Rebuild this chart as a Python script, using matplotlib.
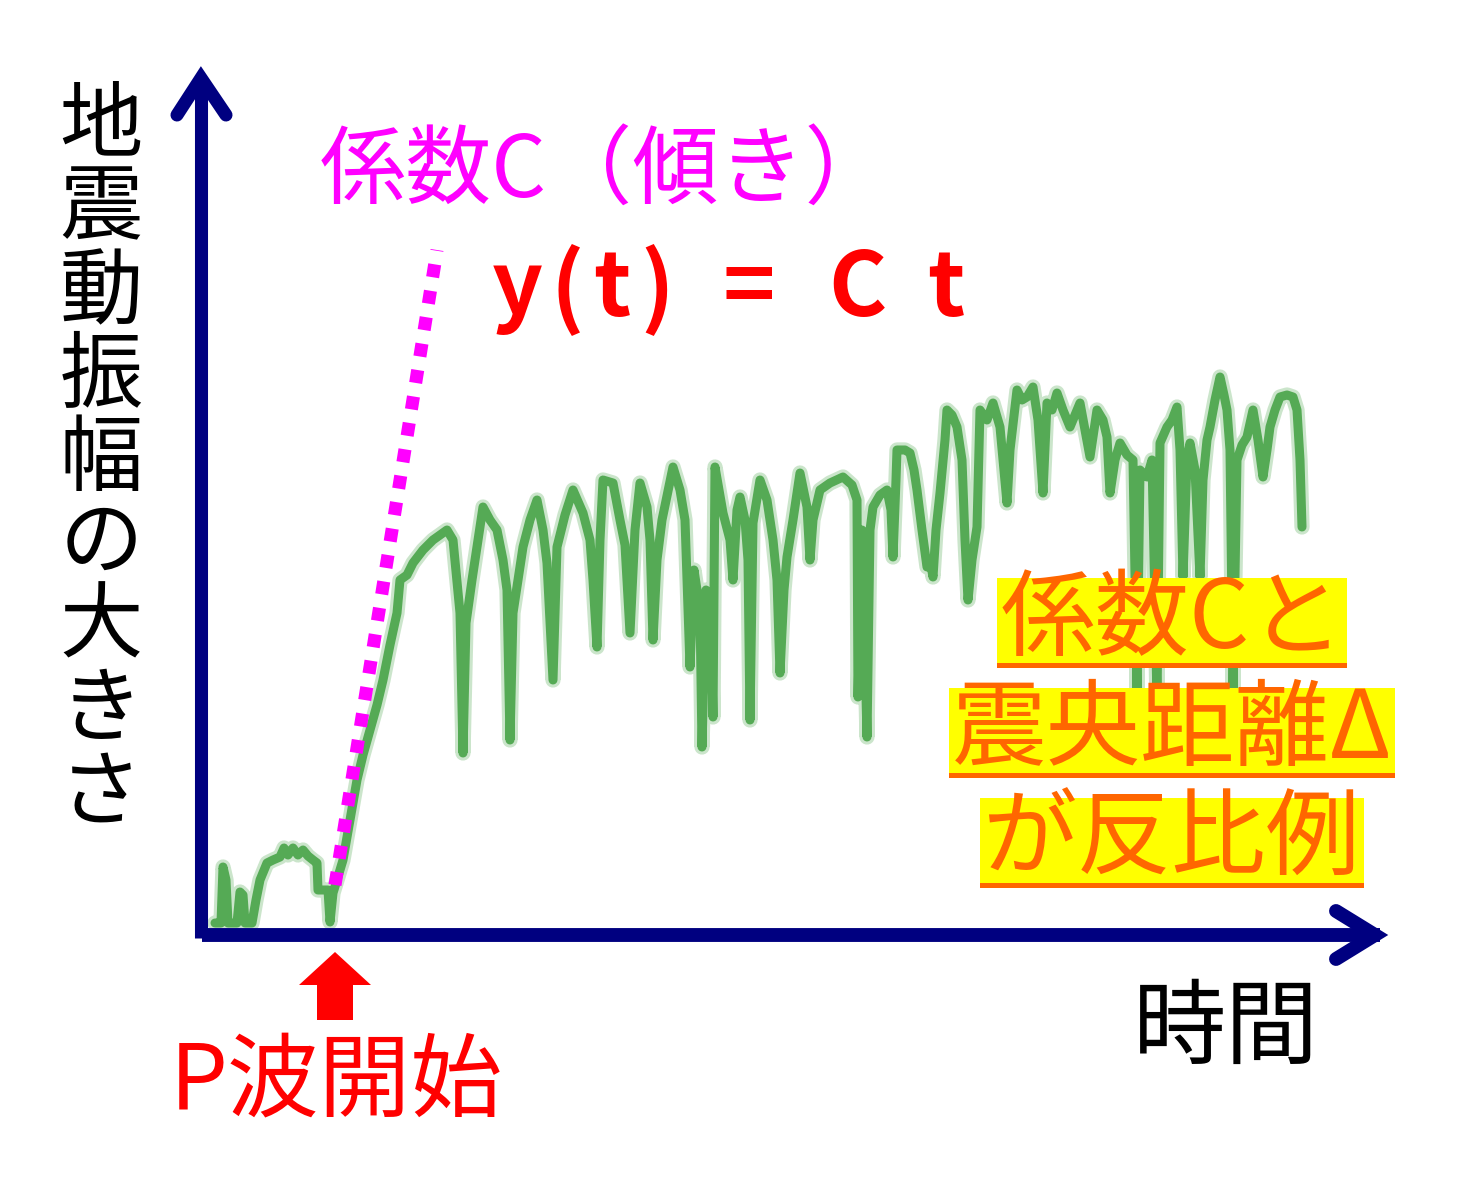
import matplotlib
matplotlib.use("Agg")
import matplotlib.pyplot as plt
from matplotlib.patches import Rectangle, FancyArrow

plt.rcParams['font.family'] = ['Noto Sans CJK JP', 'DejaVu Sans']

# canvas size and the corner of the sketch axes (in pixels of the picture)
W, H = 1457, 1186
X0, Y0 = 200, 935


def px(x, y):
    # picture pixel -> data units (time right, amplitude up)
    return x - X0, Y0 - y


# ======================
# DATA
# ======================
wave_t = [15, 21, 23, 26, 28, 37, 40, 43, 45, 52, 56, 60, 67, 73, 80, 84, 88, 93, 98, 103,
          108, 113, 117, 118, 128, 130, 133, 137, 143, 150, 157, 163, 170, 177, 183, 190,
          197, 200, 207, 213, 223, 233, 247, 253, 260, 263, 266, 272, 277, 283, 290, 297,
          303, 307, 310, 313, 318, 323, 330, 337, 343, 347, 353, 357, 365, 373, 383, 390,
          393, 397, 400, 403, 413, 420, 425, 430, 435, 440, 447, 450, 453, 457, 462, 473,
          480, 485, 490, 494, 500, 502, 506, 511, 513, 515, 523, 530, 533, 537, 540, 545,
          548, 550, 553, 560, 567, 573, 577, 580, 584, 587, 593, 600, 607, 610, 613, 620,
          630, 643, 652, 657, 658, 662, 667, 670, 673, 680, 687, 691, 693, 696, 697, 705,
          710, 714, 717, 722, 727, 730, 733, 736, 740, 745, 747, 752, 757, 762, 765, 768,
          772, 777, 780, 787, 793, 800, 804, 807, 810, 817, 822, 827, 833, 838, 843, 847,
          852, 857, 863, 870, 875, 880, 885, 890, 897, 903, 907, 910, 915, 920, 927, 933,
          937, 940, 947, 952, 957, 960, 967, 972, 977, 980, 983, 987, 990, 995, 1000, 1003,
          1007, 1010, 1015, 1020, 1024, 1027, 1030, 1033, 1037, 1042, 1047, 1053, 1058, 1063,
          1067, 1070, 1075, 1080, 1087, 1093, 1097, 1100, 1102]
wave_amp = [12, 12, 68, 55, 12, 12, 43, 40, 12, 12, 35, 55, 72, 75, 78, 87, 80, 87, 80, 85,
            79, 75, 72, 45, 45, 13, 42, 55, 75, 115, 155, 180, 205, 230, 255, 290,
            322, 355, 360, 372, 385, 395, 405, 395, 322, 182, 312, 355, 388, 428, 415, 405,
            375, 345, 195, 322, 355, 388, 415, 435, 405, 372, 255, 388, 420, 445, 422, 395,
            355, 288, 395, 455, 452, 415, 390, 302, 405, 452, 428, 395, 295, 375, 415, 468,
            445, 415, 268, 365, 325, 188, 345, 305, 218, 468, 422, 395, 355, 425, 438, 415,
            375, 215, 412, 455, 435, 395, 355, 262, 345, 378, 415, 462, 428, 375, 415, 445,
            452, 458, 450, 435, 238, 405, 198, 405, 428, 440, 445, 425, 378, 455, 485, 485,
            482, 465, 445, 405, 368, 375, 358, 405, 442, 495, 525, 520, 508, 475, 395, 335,
            375, 408, 525, 515, 532, 508, 465, 432, 485, 545, 535, 538, 548, 515, 442, 532,
            525, 542, 525, 508, 520, 532, 505, 478, 525, 515, 498, 442, 475, 492, 480, 475,
            245, 465, 458, 475, 235, 492, 508, 515, 528, 485, 358, 475, 492, 465, 358, 455,
            495, 508, 535, 558, 540, 525, 485, 245, 475, 490, 498, 525, 495, 458,
            485, 508, 525, 538, 540, 538, 525, 475, 408]

# y = C t guide (dotted)
slope_t = [135, 237]
slope_amp = [50, 685]

ylabel = "地震動振幅の大きさ"
xlabel = "時間"
note_lines = ["係数Cと", "震央距離Δ", "が反比例"]

NAVY = "#000080"
GREEN = "#55aa55"
MAGENTA = "#ff00ff"
RED = "#ff0000"
ORANGE = "#ff6600"
YELLOW = "#ffff00"

# ======================
# FIGURE
# ======================
fig = plt.figure(figsize=(W / 100, H / 100), dpi=100)
ax = fig.add_axes([0, 0, 1, 1])
ax.set_xlim(-X0, W - X0)
ax.set_ylim(Y0 - H, Y0)
ax.axis("off")

# waveform: soft halo + core
ax.plot(wave_t, wave_amp, color=GREEN, lw=11, alpha=0.3,
        solid_joinstyle="round", solid_capstyle="round", zorder=2)
ax.plot(wave_t, wave_amp, color=GREEN, lw=6.5,
        solid_joinstyle="round", solid_capstyle="round", zorder=3)

# dotted slope
ax.plot(slope_t, slope_amp, color=MAGENTA, lw=9.4, linestyle=(0, (1.0, 1.05)),
        dash_capstyle="butt", zorder=6)

# axes arrows
xs, ys = zip(px(201, 938), px(201, 80))
ax.plot(xs, ys, color=NAVY, lw=9.4, solid_capstyle="butt", zorder=4)
xs, ys = zip(px(177, 115), px(201, 78), px(226, 115))
ax.plot(xs, ys, color=NAVY, lw=9.4, solid_capstyle="round", solid_joinstyle="miter", zorder=4)
xs, ys = zip(px(202, 935), px(1380, 935))
ax.plot(xs, ys, color=NAVY, lw=10, solid_capstyle="butt", zorder=4)
xs, ys = zip(px(1336, 911), px(1375, 935), px(1336, 959))
ax.plot(xs, ys, color=NAVY, lw=10, solid_capstyle="round", solid_joinstyle="miter", zorder=4)

# P-wave arrow
x, y = px(335, 1020)
ax.add_patch(FancyArrow(x, y, 0, 68, width=36, head_width=72, head_length=33,
                        length_includes_head=True, color=RED, lw=0, zorder=5))

# labels
for i, ch in enumerate(ylabel):
    ax.text(*px(101, 126 + i * 83.5), ch, fontsize=60, ha="center", va="center", color="black")

ax.text(*px(1226, 1030), xlabel, fontsize=67, ha="center", va="center", color="black")
ax.text(*px(170, 1083), "P波開始", fontsize=66, ha="left", va="center", color=RED)
ax.text(*px(320, 172), "係数C（傾き）", fontsize=62, ha="left", va="center", color=MAGENTA)

# y(t) = C t, spread out like the original
for s, xc in [("y", 517), ("(", 567), ("t", 612), (")", 657),
              ("=", 749), ("C", 857), ("t", 946)]:
    ax.text(*px(xc, 290), s, fontsize=64, fontweight="bold", ha="center", va="center", color=RED)

# highlighted note with underline
note_texts = []
for i, line in enumerate(note_lines):
    t = ax.text(*px(1172, 621 + i * 110), line, fontsize=68, ha="center", va="center",
                color=ORANGE, zorder=9)
    note_texts.append((t, 623 + i * 110))

fig.canvas.draw()
inv = ax.transData.inverted()
for t, cy in note_texts:
    bb = t.get_window_extent()
    (x0, _), (x1, _) = inv.transform([[bb.x0, bb.y0], [bb.x1, bb.y1]])
    x0 -= 3
    x1 += 3
    _, ytop = px(0, cy - 45)
    _, ybot = px(0, cy + 45)
    ax.add_patch(Rectangle((x0, ybot), x1 - x0, ytop - ybot, fc=YELLOW, ec="none", zorder=8))
    ax.add_patch(Rectangle((x0, ybot), x1 - x0, 5, fc=ORANGE, ec="none", zorder=10))

fig.savefig("out.png", dpi=100, facecolor="white")
